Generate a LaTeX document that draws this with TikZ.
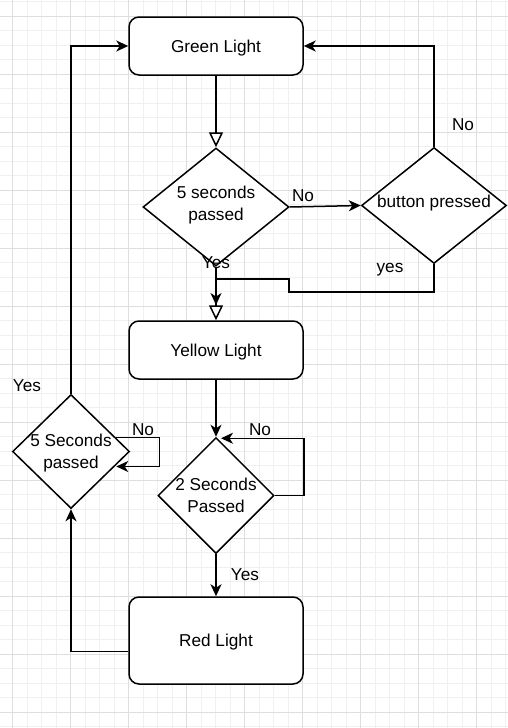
\documentclass[tikz,border=0pt]{standalone}
\usepackage{fontspec}
\setmainfont{Liberation Sans}
\usetikzlibrary{shapes.geometric,arrows.meta,calc}
\begin{document}
\begin{tikzpicture}[x=1pt,y=-1pt,
  font=\fontsize{17.2}{22}\selectfont,
  box/.style={draw, line width=1.5pt, rounded corners=10pt, fill=white, minimum width=174pt, inner sep=0pt, text depth=0pt},
  dia/.style={draw, diamond, line width=1.5pt, fill=white, inner sep=-8pt, align=center},
  conn/.style={line width=1.5pt, -{Stealth[length=12pt,width=11pt,inset=3.5pt]}},
  openconn/.style={line width=1.5pt, -{Triangle[open,length=15pt,width=14pt,fill=white]}},
  lbl/.style={inner sep=0pt},
  minorgrid/.style={draw=black!6, line width=0.8pt},
  majorgrid/.style={draw=black!13, line width=0.8pt}
]
\useasboundingbox[fill=white] (0,0) rectangle (508,728);
% grid
\foreach \i in {0,...,35} {\draw[minorgrid] ({-2+14.5*\i},0) -- ++(0,728);}
\foreach \j in {0,...,50} {\draw[minorgrid] (0,{1.5+14.5*\j}) -- ++(508,0);}
\foreach \i in {0,...,8} {\draw[majorgrid] ({12.5+58*\i},0) -- ++(0,728);}
\foreach \j in {0,...,12} {\draw[majorgrid] (0,{16+58*\j}) -- ++(508,0);}

% nodes
\node[box, minimum height=58pt] (green) at (216,46) {Green Light};
\node[dia, minimum width=146pt, minimum height=118pt, text depth=7.5pt] (d1) at (216,207) {5 seconds\\passed};
\node[dia, minimum width=145pt, minimum height=116pt, text depth=7.5pt] (bp) at (434,205.5) {button pressed};
\node[box, minimum height=58pt] (yellow) at (216,350) {Yellow Light};
\node[dia, minimum width=116pt, minimum height=116pt] (d2) at (216,495.5) {2 Seconds\\Passed};
\node[box, minimum height=87pt] (red) at (216,640.5) {Red Light};
\node[dia, minimum width=117pt, minimum height=114pt, text depth=1pt] (d3) at (71,451.5) {5 Seconds\\passed};

% connectors
\draw[openconn] (green.south) -- (d1.north);
\draw[conn] (d1.east) -- (bp.west);
\draw[conn] (bp.north) |- (green.east);
\draw[openconn] (d1.south) -- (yellow.north);
\coordinate (yj) at (216,305);
\draw[conn] (bp.south) |- (289,292) -- (289,279) -| (yj);
\draw[conn] (yellow.south) -- (d2.north);
\draw[conn] (d2.east) -- ++(29,0) |- ($(d2.north)+(5,1.5)$);
\draw[conn] (d2.south) -- (red.north);
\draw[conn] ($(red.west)+(0,11)$) -| (d3.south);
\draw[conn] ($(d3.east)+(-14,-14)$) -- ++(43,0) |- ($(d3.east)+(-14,15)$);
\draw[conn] (d3.north) |- (green.west);

% labels
\node[lbl] (lno1) at (303,196) {No};
\node[lbl] (lno2) at (463,125) {No};
\node[lbl] (lyes1) at (216,263) {Yes};
\node[lbl] (lyes2) at (390,270) {yes};
\node[lbl] (lno3) at (260,430) {No};
\node[lbl] (lyes3) at (245,575) {Yes};
\node[lbl] (lno4) at (143,430) {No};
\node[lbl] (lyes4) at (27,386) {Yes};
\end{tikzpicture}
\end{document}
